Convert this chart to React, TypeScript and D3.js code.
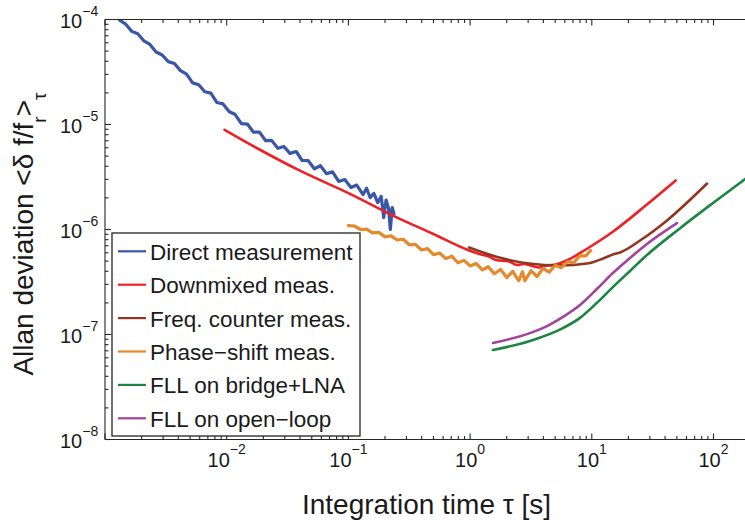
import React from 'react';
import * as d3 from 'd3';

// ---- data (integration time tau [s], Allan deviation) ----
const directTau = [1.32e-3, 1.48e-3, 1.66e-3, 1.86e-3, 2.09e-3, 2.34e-3, 2.63e-3, 2.95e-3, 3.31e-3, 3.72e-3, 4.17e-3, 4.68e-3, 5.25e-3, 5.89e-3, 6.61e-3, 7.41e-3, 8.32e-3, 9.33e-3, 1.05e-2, 1.17e-2, 1.32e-2, 1.48e-2, 1.66e-2, 1.86e-2, 2.09e-2, 2.34e-2, 2.63e-2, 2.95e-2, 3.31e-2, 3.72e-2, 4.17e-2, 4.68e-2, 5.25e-2, 5.89e-2, 6.61e-2, 7.41e-2, 8.32e-2, 9.33e-2, 0.105, 0.117, 0.132, 0.141, 0.151, 0.162, 0.174, 0.186, 0.195, 0.204, 0.214, 0.221, 0.229, 0.237];
const directAdev = [9.84e-5, 9.02e-5, 7.71e-5, 7.31e-5, 6.25e-5, 5.79e-5, 4.9e-5, 4.59e-5, 3.97e-5, 3.81e-5, 3.26e-5, 3.02e-5, 2.49e-5, 2.39e-5, 2.05e-5, 1.99e-5, 1.62e-5, 1.57e-5, 1.32e-5, 1.25e-5, 1.02e-5, 1.01e-5, 8.45e-6, 8.45e-6, 7.01e-6, 7.06e-6, 5.93e-6, 6.18e-6, 5.31e-6, 5.53e-6, 4.54e-6, 4.52e-6, 3.79e-6, 4.05e-6, 3.4e-6, 3.54e-6, 2.87e-6, 2.99e-6, 2.51e-6, 2.65e-6, 2.15e-6, 2.47e-6, 2.01e-6, 2.21e-6, 1.8e-6, 2.07e-6, 1.3e-6, 1.91e-6, 1.58e-6, 1.0e-6, 1.62e-6, 1.41e-6];

const downTau = [0.0096, 0.0186, 0.0396, 0.102, 0.262, 0.489, 0.982, 1.19, 1.43, 1.63, 2.09, 2.43, 2.77, 3.68, 4.28, 5.07, 6.47, 8.93, 14.6, 27.7, 48.9];
const downAdev = [8.91e-6, 5.78e-6, 3.65e-6, 2.2e-6, 1.27e-6, 9.16e-7, 6.31e-7, 5.85e-7, 5.53e-7, 5.13e-7, 4.95e-7, 4.59e-7, 4.69e-7, 4.35e-7, 4.54e-7, 4.64e-7, 5.18e-7, 6.45e-7, 9.36e-7, 1.69e-6, 2.93e-6];

const counterTau = [0.98, 1.73, 3.05, 5.37, 9.45, 12.4, 14.9, 17.1, 24.9, 41.5, 88.5];
const counterAdev = [6.74e-7, 5.41e-7, 4.74e-7, 4.54e-7, 4.78e-7, 5.3e-7, 5.78e-7, 6.04e-7, 7.85e-7, 1.22e-6, 2.74e-6];

const phaseTau = [0.1, 0.112, 0.126, 0.141, 0.158, 0.178, 0.2, 0.224, 0.251, 0.282, 0.316, 0.355, 0.398, 0.447, 0.501, 0.562, 0.631, 0.708, 0.794, 0.891, 1.0, 1.12, 1.26, 1.41, 1.58, 1.78, 2.0, 2.24, 2.51, 2.69, 2.82, 3.16, 3.55, 3.98, 4.47, 5.01, 5.62, 6.31, 7.08, 7.94, 8.91, 9.77];
const phaseAdev = [1.09e-6, 1.08e-6, 1.0e-6, 1.01e-6, 9.29e-7, 9.38e-7, 8.51e-7, 8.69e-7, 7.94e-7, 8.07e-7, 7.16e-7, 7.21e-7, 6.38e-7, 6.58e-7, 5.75e-7, 5.97e-7, 5.28e-7, 5.57e-7, 4.82e-7, 5.08e-7, 4.5e-7, 4.75e-7, 4.13e-7, 4.42e-7, 3.79e-7, 4.16e-7, 3.48e-7, 4.0e-7, 3.25e-7, 3.96e-7, 3.25e-7, 4.05e-7, 3.57e-7, 4.26e-7, 3.93e-7, 4.57e-7, 4.33e-7, 4.94e-7, 4.82e-7, 5.61e-7, 5.6e-7, 6.31e-7];

const fllBridgeTau = [1.54, 3.1, 5.79, 8.0, 11.0, 14.9, 20.6, 28.4, 53.2, 99.1, 182, 207];
const fllBridgeAdev = [7.11e-8, 8.67e-8, 1.15e-7, 1.44e-7, 2.0e-7, 2.83e-7, 4.03e-7, 5.71e-7, 1.03e-6, 1.79e-6, 3.03e-6, 3.38e-6];

const fllOpenTau = [1.54, 3.1, 4.28, 5.79, 8.0, 11.0, 14.9, 20.6, 28.4, 50.1];
const fllOpenAdev = [8.3e-8, 1.03e-7, 1.2e-7, 1.47e-7, 1.91e-7, 2.71e-7, 3.85e-7, 5.36e-7, 7.28e-7, 1.15e-6];

const seriesNames = ['Direct measurement', 'Downmixed meas.', 'Freq. counter meas.', 'Phase\u2212shift meas.', 'FLL on bridge+LNA', 'FLL on open\u2212loop'];
const xTickLabels = ['\u22122', '\u22121', '0', '1', '2'];
const xTickValues = [1e-2, 1e-1, 1, 10, 100];
const yTickLabels = ['\u22124', '\u22125', '\u22126', '\u22127', '\u22128'];
const yTickValues = [1e-4, 1e-5, 1e-6, 1e-7, 1e-8];

const seriesData = [
  { tau: directTau, adev: directAdev, color: '#3a56a6', width: 3.2, smooth: false },
  { tau: downTau, adev: downAdev, color: '#ee2127', width: 2.6, smooth: true },
  { tau: counterTau, adev: counterAdev, color: '#93361f', width: 2.6, smooth: true },
  { tau: phaseTau, adev: phaseAdev, color: '#e4892c', width: 3.2, smooth: false },
  { tau: fllBridgeTau, adev: fllBridgeAdev, color: '#1b8541', width: 2.6, smooth: true },
  { tau: fllOpenTau, adev: fllOpenAdev, color: '#a0449d', width: 2.6, smooth: true },
];

const FONT = "'Liberation Sans', Arial, Helvetica, sans-serif";

export default function App() {
  const W = 745, H = 520;
  const left = 105, top = 19.5, bottom = 439.5;
  const right = left + 121.7 * Math.log10(200 / 1e-3);
  const x = d3.scaleLog().domain([1e-3, 200]).range([left, right]);
  const y = d3.scaleLog().domain([1e-8, 1e-4]).range([bottom, top]);

  const isMajor = (v: number) => Math.abs(Math.log10(v) - Math.round(Math.log10(v))) < 1e-6;
  const xt = x.ticks().filter((t) => x(t) <= W);
  const yt = y.ticks();

  const lineFor = (smooth: boolean) =>
    d3.line<[number, number]>()
      .x((d) => x(d[0]))
      .y((d) => y(d[1]))
      .curve(smooth ? d3.curveMonotoneX : d3.curveLinear);

  const legendX = 112, legendY = 233, legendW = 248, legendH = 203;
  const rowY0 = 251.3, rowStep = 33.4;

  return (
    <svg width={W} height={H} style={{ position: 'absolute', left: 0, top: 0, display: 'block', background: '#fff' }} fontFamily={FONT}>
      <defs>
        <clipPath id="plotclip">
          <rect x={left} y={top} width={right - left} height={bottom - top} />
        </clipPath>
      </defs>
      <rect x={0} y={0} width={W} height={H} fill="#fff" />

      {/* data lines */}
      <g clipPath="url(#plotclip)" fill="none" strokeLinejoin="round" strokeLinecap="round">
        {seriesData.map((s, i) => {
          const pts = s.tau.map((t, k) => [t, s.adev[k]] as [number, number]);
          return <path key={i} d={lineFor(s.smooth)(pts) || ''} stroke={s.color} strokeWidth={s.width} />;
        })}
      </g>

      {/* axes box */}
      <g stroke="#262626" strokeWidth={1.1} fill="none">
        <line x1={left} y1={top} x2={left} y2={bottom} />
        <line x1={left} y1={top} x2={right} y2={top} />
        <line x1={left} y1={bottom} x2={right} y2={bottom} />
        {xt.map((t, i) => {
          const L = isMajor(t) ? 6 : 3.5;
          const px = x(t);
          return (
            <g key={'xt' + i}>
              <line x1={px} y1={bottom} x2={px} y2={bottom - L} />
              <line x1={px} y1={top} x2={px} y2={top + L} />
            </g>
          );
        })}
        {yt.map((t, i) => {
          const L = isMajor(t) ? 6 : 3.5;
          const py = y(t);
          return <line key={'yt' + i} x1={left} y1={py} x2={left + L} y2={py} />;
        })}
      </g>

      {/* tick labels */}
      <g fill="#1a1a1a" fontSize={20}>
        {xTickValues.map((t, i) => (
          <text key={'xl' + i} x={x(t)} y={467} textAnchor="middle">
            10<tspan dy={-13} fontSize={14}>{xTickLabels[i]}</tspan>
          </text>
        ))}
        {yTickValues.map((t, i) => (
          <text key={'yl' + i} x={60} y={y(t) + 8}>
            10<tspan dy={-12} fontSize={14}>{yTickLabels[i]}</tspan>
          </text>
        ))}
      </g>

      {/* axis titles */}
      <text x={(left + right) / 2 - 1} y={514} textAnchor="middle" fontSize={28} fill="#1a1a1a">
        Integration time τ [s]
      </text>
      <text transform="translate(33,234) rotate(-90)" textAnchor="middle" fontSize={28} fill="#1a1a1a">
        Allan deviation &lt;δ f/f<tspan dy={13} fontSize={19}>r</tspan>
        <tspan dy={-13} fontSize={28}>&gt;</tspan>
        <tspan dy={13} fontSize={19}>τ</tspan>
      </text>

      {/* legend */}
      <rect x={legendX} y={legendY} width={legendW} height={legendH} fill="#fff" stroke="#222" strokeWidth={1.3} />
      {seriesNames.map((name, i) => {
        const ry = rowY0 + i * rowStep;
        return (
          <g key={'lg' + i}>
            <line x1={118} y1={ry} x2={146} y2={ry} stroke={seriesData[i].color} strokeWidth={2.2} />
            <text x={150} y={ry + 8.5} fontSize={22.5} fill="#1a1a1a">{name}</text>
          </g>
        );
      })}
    </svg>
  );
}
